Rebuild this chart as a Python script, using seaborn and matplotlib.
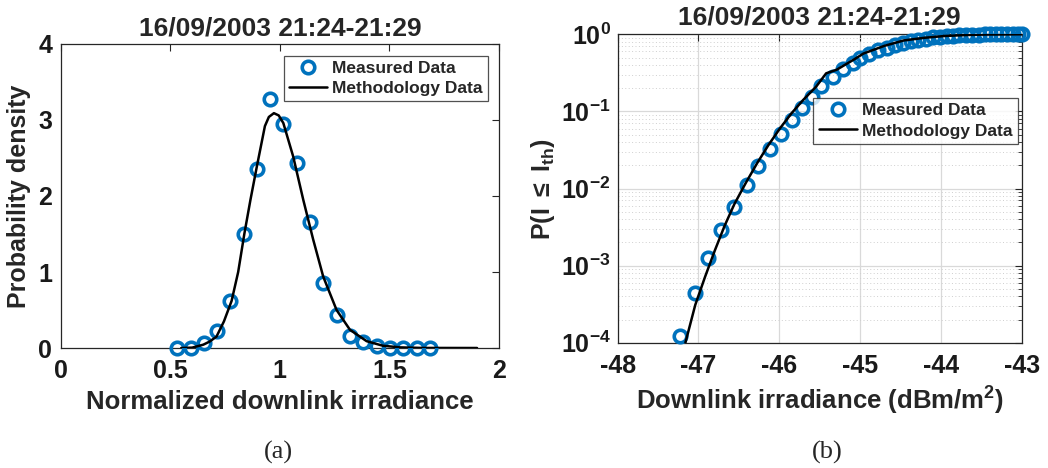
import numpy as np
import pandas as pd
import matplotlib
matplotlib.use("Agg")
import matplotlib.pyplot as plt
import matplotlib.ticker as mticker
import seaborn as sns

# ---------------- data ----------------
title_text = "16/09/2003 21:24-21:29"

pdf_meas_x = [0.532, 0.593, 0.652, 0.713, 0.772, 0.836, 0.895, 0.956, 1.016, 1.077,
              1.137, 1.195, 1.259, 1.320, 1.381, 1.442, 1.503, 1.564, 1.625, 1.686]
pdf_meas_y = [0.0, 0.0, 0.06, 0.22, 0.62, 1.50, 2.36, 3.27, 2.95, 2.43,
              1.66, 0.86, 0.43, 0.16, 0.08, 0.02, 0.005, 0.0, 0.0, 0.0]

pdf_model_x = [0.55, 0.60, 0.651, 0.68, 0.711, 0.745, 0.780, 0.81, 0.838, 0.866,
               0.894, 0.932, 0.95, 0.973, 0.995, 1.016, 1.061, 1.107, 1.152, 1.198,
               1.259, 1.320, 1.396, 1.47, 1.55, 1.65, 1.9]
pdf_model_y = [0.0, 0.005, 0.044, 0.085, 0.15, 0.35, 0.62, 1.0, 1.50, 1.95,
               2.37, 2.92, 3.04, 3.09, 3.06, 2.96, 2.52, 1.95, 1.43, 0.94,
               0.50, 0.24, 0.09, 0.03, 0.008, 0.001, 0.0]

cdf_meas_x = [-47.223, -47.049, -46.879, -46.717, -46.555, -46.405, -46.263, -46.109,
              -45.976, -45.846, -45.717, -45.595, -45.478, -45.339, -45.215, -45.092,
              -45.0, -44.89, -44.78, -44.67, -44.57, -44.47, -44.37, -44.28, -44.19,
              -44.10, -44.01, -43.93, -43.85, -43.77, -43.69, -43.61, -43.53, -43.46,
              -43.39, -43.32, -43.25, -43.18, -43.11, -43.04, -43.0]
cdf_meas_y = [1.23e-4, 4.45e-4, 1.27e-3, 2.94e-3, 5.7e-3, 0.0110, 0.0196, 0.033,
              0.051, 0.078, 0.110, 0.156, 0.216, 0.277, 0.352, 0.42,
              0.50, 0.56, 0.62, 0.67, 0.72, 0.77, 0.81, 0.85, 0.88,
              0.91, 0.93, 0.95, 0.96, 0.97, 0.98, 0.985, 0.99, 0.995,
              0.997, 0.998, 0.999, 1.0, 1.0, 1.0, 1.0]

cdf_model_x = [-47.162, -47.040, -46.919, -46.798, -46.676, -46.555, -46.413, -46.271,
               -46.130, -45.988, -45.846, -45.704, -45.543, -45.42, -45.29, -45.08,
               -44.96, -44.70, -44.46, -44.20, -43.95, -43.70, -43.45, -43.0]
cdf_model_y = [1.0e-4, 3.09e-4, 7.14e-4, 1.57e-3, 3.30e-3, 6.31e-3, 0.0119, 0.0216,
               0.0372, 0.0610, 0.0953, 0.141, 0.210, 0.312, 0.347, 0.468,
               0.562, 0.708, 0.832, 0.902, 0.951, 0.977, 0.993, 1.0]

x_ticks_a = [0, 0.5, 1, 1.5, 2]
x_tick_labels_a = ["0", "0.5", "1", "1.5", "2"]
y_ticks_a = [0, 1, 2, 3, 4]
x_ticks_b = [-48, -47, -46, -45, -44, -43]
y_ticks_b = [1e-4, 1e-3, 1e-2, 1e-1, 1e0]
y_tick_labels_b = [r"$\mathbf{10^{-4}}$", r"$\mathbf{10^{-3}}$", r"$\mathbf{10^{-2}}$",
                   r"$\mathbf{10^{-1}}$", r"$\mathbf{10^{0}}$"]

# ---------------- style ----------------
sns.set_theme(style="white")
plt.rcParams["font.family"] = ["Liberation Sans", "DejaVu Sans"]
plt.rcParams["font.weight"] = "bold"
plt.rcParams["axes.labelweight"] = "bold"
plt.rcParams["axes.titleweight"] = "bold"
plt.rcParams["axes.unicode_minus"] = False
plt.rcParams["mathtext.fontset"] = "custom"
plt.rcParams["mathtext.rm"] = "Liberation Sans:bold"
plt.rcParams["mathtext.bf"] = "Liberation Sans:bold"
plt.rcParams["mathtext.it"] = "Liberation Sans:bold"

BLUE = "#0072BD"
AX_COL = "#262626"
TICK_FS = 18
LABEL_FS = 18.5
TITLE_FS = 19

fig = plt.figure(figsize=(10.48, 4.68), dpi=100)
ax1 = fig.add_axes([0.0579, 0.2564, 0.4182, 0.6496])
ax2 = fig.add_axes([0.5894, 0.2677, 0.3855, 0.6590])

df_a_m = pd.DataFrame({"x": pdf_meas_x, "y": pdf_meas_y})
df_a_l = pd.DataFrame({"x": pdf_model_x, "y": pdf_model_y})
df_b_m = pd.DataFrame({"x": cdf_meas_x, "y": cdf_meas_y})
df_b_l = pd.DataFrame({"x": cdf_model_x, "y": cdf_model_y})

for ax in (ax1, ax2):
    for s in ax.spines.values():
        s.set_color(AX_COL)
        s.set_linewidth(0.9)
        s.set_visible(True)
    ax.tick_params(which="both", direction="in", top=True, right=True,
                   colors=AX_COL, labelcolor="#1a1a1a")
    ax.tick_params(which="major", length=5, width=0.8, labelsize=TICK_FS)
    ax.tick_params(which="minor", length=3, width=0.6)

# ---------- panel (a) ----------
ax1.set_xlim(0, 2)
ax1.set_ylim(0, 4)
sns.lineplot(data=df_a_m, x="x", y="y", ax=ax1, estimator=None, sort=False,
             linestyle="", marker="o", ms=9, mfc="none", mec=BLUE, mew=2.6,
             color=BLUE, label="Measured Data", clip_on=False, zorder=3)
sns.lineplot(data=df_a_l, x="x", y="y", ax=ax1, estimator=None, sort=False,
             color="black", lw=1.8, label="Methodology Data", zorder=4)
ax1.set_xticks(x_ticks_a)
ax1.set_xticklabels(x_tick_labels_a)
ax1.set_yticks(y_ticks_a)
ax1.tick_params(axis="x", pad=8)
ax1.tick_params(axis="y", pad=6)
ax1.set_xlabel("Normalized downlink irradiance", fontsize=LABEL_FS, labelpad=5)
ax1.set_ylabel("Probability density", fontsize=18, labelpad=5)
ax1.set_title(title_text, fontsize=TITLE_FS, pad=6)
leg1 = ax1.legend(loc="upper right", bbox_to_anchor=(0.975, 0.962), borderaxespad=0,
                  fontsize=12.5, frameon=True, fancybox=False, edgecolor="#262626",
                  handlelength=2.2, handletextpad=0.3, borderpad=0.3, labelspacing=0.3)
leg1.get_frame().set_linewidth(0.9)

# ---------- panel (b) ----------
ax2.set_yscale("log")
ax2.set_xlim(-48, -43)
ax2.set_ylim(1e-4, 1e0)
ax2.grid(True, which="major", color="#d9d9d9", lw=0.9, ls="-")
ax2.grid(True, which="minor", axis="y", color="#cfcfcf", lw=0.7, ls=(0, (1, 2.5)))
ax2.set_axisbelow(True)
sns.lineplot(data=df_b_m, x="x", y="y", ax=ax2, estimator=None, sort=False,
             linestyle="", marker="o", ms=9, mfc="none", mec=BLUE, mew=2.6,
             color=BLUE, label="Measured Data", clip_on=False, zorder=3)
sns.lineplot(data=df_b_l, x="x", y="y", ax=ax2, estimator=None, sort=False,
             color="black", lw=1.8, label="Methodology Data", zorder=4)
ax2.set_xticks(x_ticks_b)
ax2.set_yticks(y_ticks_b)
ax2.set_yticklabels(y_tick_labels_b)
ax2.yaxis.set_minor_locator(mticker.LogLocator(base=10, subs=np.arange(2, 10), numticks=20))
ax2.yaxis.set_minor_formatter(mticker.NullFormatter())
ax2.tick_params(axis="x", pad=8)
ax2.tick_params(axis="y", pad=5)
ax2.set_xlabel(r"Downlink irradiance (dBm/m$^{\mathbf{2}}$)", fontsize=LABEL_FS, labelpad=5)
ax2.set_ylabel(r"P(I $\leq$ I$_{\mathbf{th}}$)", fontsize=18, labelpad=3)
ax2.set_title(title_text, fontsize=TITLE_FS, pad=7)
leg2 = ax2.legend(loc="upper right", bbox_to_anchor=(0.99, 0.794), borderaxespad=0,
                  fontsize=12.5, frameon=True, fancybox=False, edgecolor="#262626",
                  handlelength=2.2, handletextpad=0.3, borderpad=0.3, labelspacing=0.3)
leg2.get_frame().set_linewidth(0.9)

# captions
fig.text(0.266, 0.034, "(a)", ha="center", va="center", fontsize=19,
         family=["Liberation Serif", "DejaVu Serif"], weight="normal")
fig.text(0.789, 0.034, "(b)", ha="center", va="center", fontsize=19,
         family=["Liberation Serif", "DejaVu Serif"], weight="normal")

fig.savefig("out.png", dpi=100, facecolor="white")
